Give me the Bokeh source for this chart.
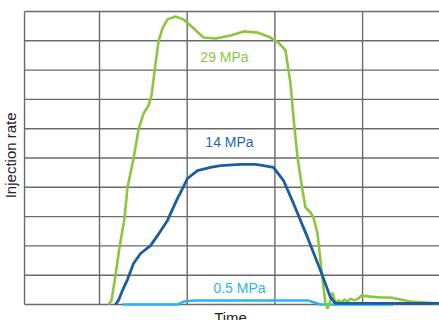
import math
from bokeh.plotting import figure
from bokeh.models import ColumnDataSource, Range1d
from bokeh.embed import file_html
from bokeh.resources import INLINE
from bokeh.core.properties import value

# ---- data (time in grid units, rate in grid units) ----
green_x = [1.103, 1.137, 1.182, 1.228, 1.285, 1.319, 1.388, 1.445, 1.502, 1.559, 1.593, 1.627,
           1.673, 1.718, 1.775, 1.867, 1.958, 2.038, 2.186, 2.323, 2.494, 2.642, 2.802, 2.950,
           3.041, 3.121, 3.178, 3.212, 3.258, 3.315, 3.349, 3.406, 3.440, 3.486, 3.520, 3.554,
           3.577, 3.600, 3.634, 3.657, 3.691, 3.725, 3.759, 3.794, 3.828, 3.862, 3.908, 3.953,
           3.987, 4.090, 4.204, 4.318, 4.432, 4.546, 4.717, 4.877]
green_y = [0.00, 0.14, 0.99, 1.95, 2.94, 3.99, 4.98, 5.97, 6.52, 6.79, 7.13, 7.95,
           8.98, 9.42, 9.73, 9.83, 9.73, 9.52, 9.11, 9.08, 9.18, 9.32, 9.28, 9.11,
           8.94, 8.67, 7.54, 6.38, 5.02, 3.89, 3.31, 3.14, 2.97, 2.42, 1.50, 0.58,
           0.03, -0.14, 0.14, 0.41, 0.03, 0.14, 0.07, 0.17, 0.10, 0.20, 0.14, 0.20,
           0.31, 0.27, 0.24, 0.24, 0.17, 0.10, 0.07, 0.03]

dark_x = [1.182, 1.216, 1.262, 1.319, 1.388, 1.468, 1.582, 1.661, 1.775, 1.889, 1.924, 2.003,
          2.117, 2.266, 2.380, 2.608, 2.779, 2.870, 2.984, 3.098, 3.212, 3.372, 3.520, 3.634,
          3.691, 3.976, 4.877]
dark_y = [0.00, 0.14, 0.48, 0.85, 1.40, 1.74, 2.01, 2.35, 2.87, 3.62, 3.82, 4.30,
          4.57, 4.68, 4.74, 4.78, 4.78, 4.74, 4.68, 4.23, 3.45, 2.29, 1.16, 0.24,
          0.04, 0.04, 0.04]

light_x = [1.262, 1.889, 1.958, 2.095, 3.372, 3.452, 3.520, 4.352]
light_y = [0.00, 0.00, 0.10, 0.14, 0.14, 0.07, 0.00, 0.00]

label_text = ["29 MPa", "14 MPa", "0.5 MPa"]
label_x = [2.425, 2.482, 2.596]
label_y = [8.43, 5.53, 0.55]

axis_title_x = "Time"
axis_title_y = "Injection rate"

GREEN = "#8cc63f"
DARK = "#1b5e9f"
LIGHT = "#2bb4e8"
label_colors = [GREEN, "#1f66ad", LIGHT]

x_start, x_end = -0.129, 4.877
y_start, y_end = -0.546, 10.375
grid_left, grid_bottom, grid_top = 0.145, 0, 10
xgrid_ticks = [0.145, 1, 2, 3, 4]
ygrid_ticks = [0, 1, 2, 3, 4, 5, 6, 7, 8, 9, 10]

p = figure(width=439, height=320, output_backend="svg", toolbar_location=None,
           x_range=Range1d(x_start, x_end), y_range=Range1d(y_start, y_end),
           min_border_left=0, min_border_right=0, min_border_top=0, min_border_bottom=0)
p.xaxis.visible = False
p.yaxis.visible = False
p.xgrid.visible = False
p.ygrid.visible = False
p.outline_line_color = None
p.background_fill_color = "white"
p.border_fill_color = "white"

GRID = "#6a6a6a"
# grid: vertical lines spanning the rate range, horizontal lines from the left frame edge
p.segment(x0=xgrid_ticks, x1=xgrid_ticks, y0=[grid_bottom] * len(xgrid_ticks),
          y1=[grid_top] * len(xgrid_ticks), line_color=GRID, line_width=1.4)
p.segment(x0=[grid_left] * len(ygrid_ticks), x1=[x_end] * len(ygrid_ticks), y0=ygrid_ticks,
          y1=ygrid_ticks, line_color=GRID, line_width=1.4)

p.line(light_x, light_y, line_color=LIGHT, line_width=2.5)
p.line(green_x, green_y, line_color=GREEN, line_width=2.6)
p.line(dark_x, dark_y, line_color=DARK, line_width=2.8)

src = ColumnDataSource(dict(x=label_x, y=label_y, t=label_text, c=label_colors))
p.text(x="x", y="y", text="t", text_color="c", source=src, text_align="center",
       text_baseline="middle", text_font=value("Liberation Sans"), text_font_size="14px")

p.text(x=[2.494], y=[-0.16], text=[axis_title_x], text_align="center", text_baseline="top",
       text_font=value("Liberation Sans"), text_font_size="15px", text_color="#222222")
p.text(x=[-0.015], y=[5.09], text=[axis_title_y], angle=math.pi / 2, text_align="center",
       text_baseline="middle", text_font=value("Liberation Sans"), text_font_size="15px",
       text_color="#222222")

open("out.html", "w").write(file_html(p, INLINE))
